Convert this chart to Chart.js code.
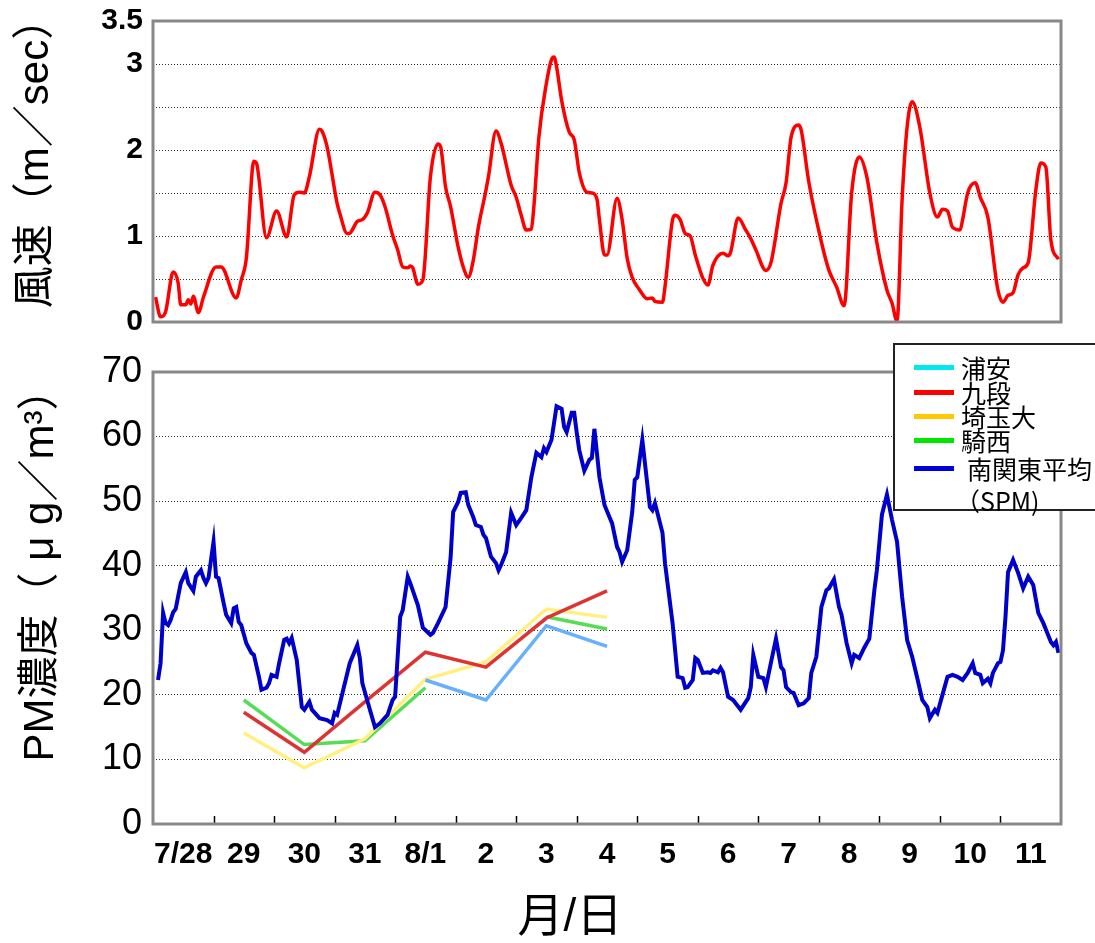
<!DOCTYPE html>
<html lang="ja">
<head>
<meta charset="UTF-8">
<title>風速とPM濃度</title>
<script src="https://cdn.jsdelivr.net/npm/chart.js"></script>
<style>
  body { margin: 0; background: #fff; width: 1095px; height: 943px; overflow: hidden; position: relative; }
  #windChart { position: absolute; left: 0; top: 0; }
  #pmChart { position: absolute; left: 0; top: 335px; }
  #legend { position: absolute; left: 893px; top: 343px; width: 230px; height: 164px; border: 2px solid #222; background: #fff;
            font-family: 'Noto Sans CJK JP', 'Liberation Sans', sans-serif; font-size: 25px; color: #000; }
  .swatch { position: absolute; left: 19px; width: 40px; height: 5px; }
  .label { position: absolute; left: 66px; white-space: nowrap; line-height: 24px; }
</style>
</head>
<body>
<canvas id="windChart" width="1095" height="341"></canvas>
<canvas id="pmChart" width="1095" height="608"></canvas>
<div id="legend"></div>
<script>
// hours since 7/28 0:00
const windHours = [
  1, 3, 5, 8, 10, 11, 13, 14, 15, 16,
  18, 20, 25, 27, 33, 35, 37, 40, 41, 45,
  49, 53, 56, 58, 60, 62, 66, 67, 69, 73,
  74, 77, 78, 79, 81, 83, 85, 88, 90, 92,
  95, 97, 99, 101, 102, 103, 105, 107, 110, 113,
  114, 116, 118, 121, 123, 125, 127, 129, 132, 133,
  136, 138, 142, 144, 146, 148, 150, 151, 153, 156,
  158, 159, 160, 162, 165, 167, 169, 172, 174, 176,
  177, 179, 180, 184, 186, 188, 190, 193, 196, 198,
  199, 202, 203, 206, 207, 209, 211, 213, 215, 218,
  220, 222, 226, 228, 229, 232, 235, 237, 239, 243,
  245, 249, 251, 253, 256, 257, 260, 265, 268, 271,
  274, 277, 280, 283, 287, 291, 293, 295, 297, 299,
  301, 304, 308, 311, 313, 315, 317, 320, 321, 323,
  326, 328, 331, 335, 337, 339, 341, 343, 345, 347,
  350, 352, 354, 356, 359
];
const windSpeed = [
  0.29, 0.06, 0.12, 0.58, 0.45, 0.2, 0.2, 0.26, 0.21, 0.3,
  0.11, 0.29, 0.64, 0.64, 0.28, 0.49, 0.74, 1.87, 1.85, 0.98,
  1.29, 0.99, 1.48, 1.51, 1.5, 1.69, 2.24, 2.22, 2.04, 1.38,
  1.27, 1.03, 1.03, 1.07, 1.17, 1.19, 1.27, 1.51, 1.48, 1.34,
  1.01, 0.84, 0.64, 0.63, 0.65, 0.63, 0.44, 0.49, 1.69, 2.07,
  2.04, 1.57, 1.34, 0.87, 0.64, 0.52, 0.72, 1.1, 1.53, 1.69,
  2.22, 2.08, 1.59, 1.45, 1.24, 1.07, 1.08, 1.34, 2.15, 2.78,
  3.05, 3.08, 2.97, 2.58, 2.21, 2.12, 1.74, 1.51, 1.5, 1.43,
  1.19, 0.78, 0.78, 1.44, 1.19, 0.74, 0.52, 0.37, 0.27, 0.28,
  0.24, 0.23, 0.41, 1.19, 1.24, 1.19, 1.03, 1.0, 0.78, 0.51,
  0.43, 0.66, 0.8, 0.77, 0.81, 1.21, 1.07, 0.97, 0.84, 0.6,
  0.69, 1.38, 1.62, 2.15, 2.29, 2.23, 1.63, 0.93, 0.6, 0.41,
  0.19, 1.5, 1.92, 1.69, 0.92, 0.37, 0.22, 0.01, 1.42, 2.27,
  2.56, 2.27, 1.5, 1.22, 1.31, 1.29, 1.1, 1.07, 1.19, 1.5,
  1.62, 1.45, 1.22, 0.37, 0.23, 0.31, 0.34, 0.55, 0.63, 0.69,
  1.53, 1.85, 1.8, 0.95, 0.73
];

const spmHours = [
  2, 3, 4, 5, 6, 7, 8, 9, 11, 13,
  14, 16, 17, 19, 20, 21, 22, 24, 25, 26,
  28, 29, 31, 32, 33, 34, 35, 37, 39, 40,
  42, 43, 45, 46, 47, 49, 50, 52, 53, 54,
  55, 57, 59, 60, 62, 63, 66, 69, 71, 72,
  73, 78, 81, 82, 83, 86, 88, 90, 93, 95,
  96, 98, 99, 101, 102, 105, 107, 110, 111, 113,
  116, 118, 119, 121, 122, 124, 125, 127, 128, 130,
  131, 132, 134, 136, 137, 138, 140, 142, 144, 146,
  148, 150, 152, 154, 155, 156, 158, 160, 162, 163,
  164, 166, 167, 168, 169, 171, 173, 174, 175, 177,
  179, 181, 182, 184, 185, 186, 188, 190, 191, 192,
  194, 197, 198, 199, 202, 203, 206, 208, 210, 211,
  212, 214, 215, 216, 218, 220, 221, 222, 224, 225,
  226, 228, 230, 233, 236, 237, 238, 240, 242, 243,
  245, 247, 249, 250, 251, 253, 254, 256, 258, 260,
  261, 263, 265, 267, 268, 270, 272, 273, 275, 277,
  278, 280, 282, 284, 286, 287, 289, 291, 293, 295,
  297, 299, 301, 303, 305, 307, 308, 310, 311, 313,
  315, 317, 319, 321, 323, 325, 326, 328, 329, 331,
  332, 333, 335, 336, 337, 338, 339, 341, 343, 345,
  347, 349, 351, 353, 356, 357, 358, 359
];
const spmValues = [
  22.3, 24.9, 32.7, 31.1, 30.8, 31.6, 32.8, 33.3, 37.3, 39.0,
  37.3, 36.1, 38.3, 39.3, 38.1, 37.3, 38.1, 43.7, 38.3, 38.1,
  34.2, 32.4, 31.1, 33.4, 33.6, 31.3, 30.8, 28.0, 26.5, 26.2,
  22.8, 20.8, 21.1, 21.8, 23.1, 22.8, 24.9, 28.5, 28.7, 28.0,
  28.8, 25.4, 18.1, 17.7, 18.9, 17.7, 16.4, 16.1, 15.6, 17.2,
  16.9, 24.9, 27.7, 25.7, 21.8, 17.7, 15.0, 15.6, 16.9, 19.2,
  19.7, 32.1, 33.1, 38.3, 37.3, 33.9, 30.4, 29.3, 29.6, 31.1,
  33.6, 41.3, 48.3, 49.9, 51.3, 51.4, 49.4, 47.5, 46.3, 46.0,
  44.8, 44.3, 41.4, 40.4, 39.3, 40.1, 42.1, 48.2, 46.3, 47.4,
  48.6, 53.7, 57.5, 56.8, 58.2, 57.6, 59.5, 64.7, 64.3, 61.5,
  60.7, 63.7, 63.7, 60.6, 57.9, 54.7, 56.4, 56.7, 61.2, 53.7,
  49.4, 47.5, 46.6, 42.9, 42.1, 40.6, 42.4, 48.3, 53.3, 53.7,
  59.5, 49.1, 48.6, 49.7, 45.1, 40.4, 31.1, 22.8, 22.6, 21.1,
  21.2, 22.3, 25.7, 25.4, 23.4, 23.5, 23.4, 23.8, 23.5, 24.2,
  23.5, 19.7, 19.2, 17.7, 19.5, 21.2, 26.2, 22.8, 22.6, 21.2,
  25.0, 28.7, 24.3, 23.8, 21.2, 20.4, 20.3, 18.4, 18.7, 19.5,
  23.4, 25.9, 33.6, 36.2, 36.5, 37.9, 33.6, 32.4, 28.0, 24.9,
  26.2, 25.7, 27.3, 28.7, 36.2, 39.3, 47.9, 51.0, 47.1, 43.7,
  35.2, 28.5, 25.9, 22.6, 19.2, 18.1, 16.4, 17.7, 17.2, 20.0,
  22.8, 23.1, 22.8, 22.3, 23.4, 24.9, 23.4, 23.1, 21.8, 22.5,
  21.8, 23.4, 24.9, 25.1, 26.9, 32.1, 39.0, 40.9, 38.9, 36.5,
  38.3, 37.0, 32.7, 31.1, 28.2, 27.7, 28.2, 26.5
];

// daily means at noon of 7/29 .. 8/4
const dayHours = [36, 60, 84, 108, 132, 156, 180];
const urayasu = [null, null, null, 22.3, 19.2, 30.7, 27.5];
const kudan   = [17.3, 11.1, 18.9, 26.6, 24.3, 31.9, 36.1];
const saitama = [14.1, 8.7, 13.2, 22.4, 25.1, 33.3, 32.0];
const kisai   = [19.2, 12.3, 12.9, 21.1, null, 32.1, 30.2];

const dayLabels = ['7/28', '29', '30', '31', '8/1', '2', '3', '4', '5', '6', '7', '8', '9', '10', '11'];

const legendNames = ['浦安', '九段', '埼玉大', '騎西', '南関東平均'];
const legendColors = ['#00e8f0', '#ff0000', '#ffc800', '#00e800', '#0000dd'];

function pairs(xs, ys) {
    return xs.map((x, i) => ({ x: x, y: ys[i] }));
}

const FONT = "'Liberation Sans', Arial, 'Noto Sans CJK JP', sans-serif";
Chart.defaults.font.family = FONT;
Chart.defaults.color = '#000';

// grey box around the plot area, and inward tick marks on day boundaries
const framePlugin = {
    id: 'frame',
    afterDatasetsDraw(chart, args, opts) {
        const a = chart.chartArea;
        const ctx = chart.ctx;
        ctx.save();
        if (opts.dayTicks) {
            const xs = chart.scales.x;
            ctx.strokeStyle = '#000';
            ctx.lineWidth = 1.5;
            for (let h = 24; h < 360; h += 24) {
                const px = Math.round(xs.getPixelForValue(h)) + 0.5;
                ctx.beginPath();
                ctx.moveTo(px, a.bottom);
                ctx.lineTo(px, a.bottom - 8);
                ctx.stroke();
            }
        }
        ctx.strokeStyle = '#888';
        ctx.lineWidth = 3;
        ctx.strokeRect(a.left, a.top, a.right - a.left, a.bottom - a.top);
        ctx.restore();
    }
};

// axis titles, placed like the original (not centred on the axis)
const titlePlugin = {
    id: 'axisTitles',
    afterDraw(chart, args, opts) {
        const ctx = chart.ctx;
        (opts.items || []).forEach(t => {
            ctx.save();
            ctx.font = t.size + 'px ' + FONT;
            ctx.fillStyle = '#000';
            ctx.textAlign = 'center';
            ctx.textBaseline = 'middle';
            ctx.translate(t.x, t.y);
            if (t.vertical) ctx.rotate(-Math.PI / 2);
            ctx.fillText(t.text, 0, 0);
            ctx.restore();
        });
    }
};

const windChart = new Chart(document.getElementById('windChart'), {
    type: 'line',
    data: {
        datasets: [{
            label: '風速',
            data: pairs(windHours, windSpeed),
            borderColor: '#ff0000',
            borderWidth: 3.5,
            pointRadius: 0,
            cubicInterpolationMode: 'monotone'
        }]
    },
    options: {
        responsive: false,
        animation: false,
        devicePixelRatio: 1,
        layout: { padding: { top: 21, right: 34, bottom: 19, left: 0 } },
        plugins: {
            legend: { display: false },
            tooltip: { enabled: false },
            frame: { dayTicks: false },
            axisTitles: { items: [{ text: '風速（m／sec）', x: 36, y: 153, size: 42, vertical: true }] }
        },
        scales: {
            x: { type: 'linear', min: 0, max: 360, display: false },
            y: {
                min: 0, max: 3.5,
                afterFit: s => { s.width = 153; },
                ticks: {
                    stepSize: 0.5,
                    autoSkip: false,
                    padding: 10,
                    font: { size: 30, weight: 'bold', lineHeight: 0.6 },
                    callback: v => (Number.isInteger(v) || v === 3.5) ? v : ''
                },
                grid: { color: '#333', lineWidth: 1, drawTicks: false },
                border: { display: false, dash: [1, 2] }
            }
        }
    },
    plugins: [framePlugin, titlePlugin]
});

const pmChart = new Chart(document.getElementById('pmChart'), {
    type: 'line',
    data: {
        datasets: [
            { label: '南関東平均（SPM)', data: pairs(spmHours, spmValues), borderColor: '#0000cc', borderWidth: 4, pointRadius: 0 },
            { label: '浦安', data: pairs(dayHours, urayasu), borderColor: '#66b0ff', borderWidth: 3.5, pointRadius: 0 },
            { label: '九段', data: pairs(dayHours, kudan), borderColor: '#dd3333', borderWidth: 3.5, pointRadius: 0 },
            { label: '埼玉大', data: pairs(dayHours, saitama), borderColor: '#fff080', borderWidth: 3.5, pointRadius: 0 },
            { label: '騎西', data: pairs(dayHours, kisai), borderColor: '#55dd55', borderWidth: 3.5, pointRadius: 0 }
        ]
    },
    options: {
        responsive: false,
        animation: false,
        devicePixelRatio: 1,
        spanGaps: false,
        layout: { padding: { top: 37, right: 34, bottom: 0, left: 0 } },
        plugins: {
            legend: { display: false },
            tooltip: { enabled: false },
            frame: { dayTicks: true },
            axisTitles: {
                items: [
                    { text: 'PM濃度（ μ g／m³）', x: 41, y: 230, size: 42, vertical: true },
                    { text: '月/日', x: 570, y: 583, size: 46, vertical: false }
                ]
            }
        },
        scales: {
            x: {
                type: 'linear', min: 0, max: 360,
                afterBuildTicks: s => { s.ticks = dayLabels.map((_, i) => ({ value: 12 + 24 * i })); },
                afterFit: s => { s.height = 119; },
                ticks: {
                    autoSkip: false,
                    maxRotation: 0,
                    padding: 13,
                    font: { size: 30, weight: 'bold' },
                    callback: (v, i) => dayLabels[i]
                },
                grid: { display: false, drawTicks: false },
                border: { display: false }
            },
            y: {
                min: 0, max: 70,
                afterFit: s => { s.width = 153; },
                ticks: { stepSize: 10, padding: 11, font: { size: 36 } },
                grid: { color: '#333', lineWidth: 1, drawTicks: false },
                border: { display: false, dash: [1, 2] }
            }
        }
    },
    plugins: [framePlugin, titlePlugin]
});

// legend box, partly running off the right edge as in the original
const legendRows = [22, 47, 71, 95, 123];
const legend = document.getElementById('legend');
legendNames.forEach((name, i) => {
    const cy = legendRows[i];
    const sw = document.createElement('div');
    sw.className = 'swatch';
    sw.style.top = (cy - 2) + 'px';
    sw.style.background = legendColors[i];
    legend.appendChild(sw);
    const lb = document.createElement('div');
    lb.className = 'label';
    lb.style.top = (cy - 12) + 'px';
    if (i === 4) lb.style.left = '72px';
    lb.textContent = name;
    legend.appendChild(lb);
});
const spmLine = document.createElement('div');
spmLine.className = 'label';
spmLine.style.top = '143px';
spmLine.style.left = '60px';
spmLine.textContent = '（SPM)';
legend.appendChild(spmLine);
</script>
</body>
</html>
